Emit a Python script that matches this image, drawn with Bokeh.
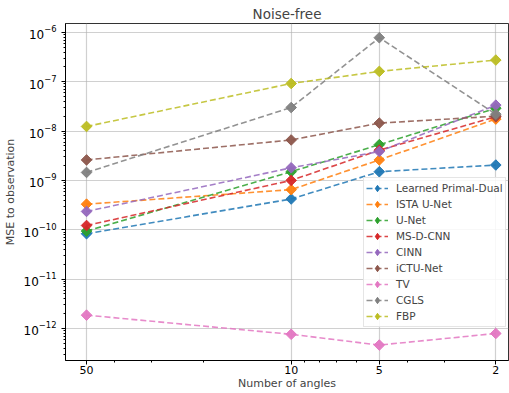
from bokeh.plotting import figure
from bokeh.models import (Range1d, FixedTicker, BasicTickFormatter, Legend, LegendItem,
                          ColumnDataSource)
from bokeh.embed import file_html
from bokeh.resources import INLINE

angles = [50, 10, 5, 2]
methods = ["Learned Primal-Dual", "ISTA U-Net", "U-Net", "MS-D-CNN", "CINN",
           "iCTU-Net", "TV", "CGLS", "FBP"]
lpd = [8.3e-11, 4.2e-10, 1.5e-9, 2.05e-9]
ista = [3.3e-10, 6.5e-10, 2.6e-9, 1.75e-8]
unet = [9.4e-11, 1.5e-9, 5.3e-9, 2.9e-8]
msd = [1.22e-10, 1.0e-9, 4.1e-9, 1.95e-8]
cinn = [2.35e-10, 1.8e-9, 3.85e-9, 3.35e-8]
ictu = [2.6e-9, 6.6e-9, 1.45e-8, 2.0e-8]
tv = [1.86e-12, 7.6e-13, 4.6e-13, 7.9e-13]
cgls = [1.45e-9, 3.0e-8, 7.8e-7, 2.2e-8]
fbp = [1.24e-8, 9.2e-8, 1.62e-7, 2.75e-7]
series = [lpd, ista, unet, msd, cinn, ictu, tv, cgls, fbp]
colors = ["#1f77b4", "#ff7f0e", "#2ca02c", "#d62728", "#9467bd",
          "#8c564b", "#e377c2", "#7f7f7f", "#bcbd22"]

FONT = "DejaVu Sans"

p = figure(width=509, height=393, output_backend="svg", toolbar_location=None,
           x_axis_type="log", y_axis_type="log",
           x_range=Range1d(59, 1.81), y_range=Range1d(10**-12.65, 10**-5.82),
           min_border_left=63, min_border_right=1, min_border_top=23,
           min_border_bottom=33)

p.title.text = "Noise-free"
p.title.align = "center"
p.title.text_font = FONT
p.title.text_font_size = "13.5px"
p.title.text_font_style = "normal"
p.title.standoff = 3

p.xaxis.ticker = FixedTicker(ticks=[50, 10, 5, 2],
                             minor_ticks=[40, 30, 20, 9, 8, 7, 6, 4, 3])
p.xaxis.formatter = BasicTickFormatter()
yminor = [k * 10.0**e for e in range(-13, -5) for k in range(2, 10)]
p.yaxis.ticker = FixedTicker(ticks=[10.0**e for e in range(-12, -5)],
                             minor_ticks=yminor)

for ax in (p.xaxis[0], p.yaxis[0]):
    ax.axis_line_color = "black"
    ax.major_tick_line_color = "black"
    ax.minor_tick_line_color = "black"
    ax.major_tick_out = 4
    ax.major_tick_in = 0
    ax.minor_tick_out = 2
    ax.minor_tick_in = 0
    ax.major_label_text_font = FONT
    ax.major_label_text_font_size = "12px"
    ax.major_label_text_color = "black"
    ax.axis_label_text_font = FONT
    ax.axis_label_text_font_size = "11px"
    ax.axis_label_text_font_style = "normal"
    ax.axis_label_standoff = 4
p.xaxis.axis_label = "Number of angles"
p.yaxis.axis_label = "MSE to observation"
p.xaxis.major_label_text_font_size = "11px"
p.xaxis.major_label_standoff = 1
p.xaxis.axis_label_standoff = 0

p.xgrid.grid_line_color = "#b0b0b0"
p.ygrid.grid_line_color = "#b0b0b0"
p.xgrid.grid_line_alpha = 0.6
p.ygrid.grid_line_alpha = 0.6
p.xgrid.grid_line_width = 1.2
p.ygrid.grid_line_width = 1.2
p.outline_line_color = "black"
p.outline_line_alpha = 0.8
p.background_fill_color = "white"

# one point far outside the visible range, only used for the legend swatch
offscreen = ColumnDataSource(data=dict(x=[1000.0], y=[1.0]))
items = []
for name, vals, c in zip(methods, series, colors):
    r1 = p.line(angles, vals, line_color=c, line_width=1.6, line_dash="6 3",
                line_alpha=0.85)
    p.scatter(angles, vals, marker="square", angle=0.785398, size=7.5,
              fill_color=c, line_color=c, fill_alpha=0.95, line_alpha=0.95)
    swatch = p.scatter("x", "y", source=offscreen, marker="diamond", size=10,
                       fill_color=c, line_color=c)
    items.append(LegendItem(label=name, renderers=[r1, swatch]))

legend = Legend(items=items, location=(298, 33))
legend.label_text_font = FONT
legend.label_text_font_size = "10.5px"
legend.glyph_width = 22
legend.glyph_height = 16
legend.label_height = 14
legend.label_standoff = 8
legend.spacing = 0
legend.padding = 2
legend.margin = 0
legend.border_line_color = "#cccccc"
legend.background_fill_alpha = 0.85
p.add_layout(legend, "center")

open("out.html", "w").write(file_html(p, INLINE))
